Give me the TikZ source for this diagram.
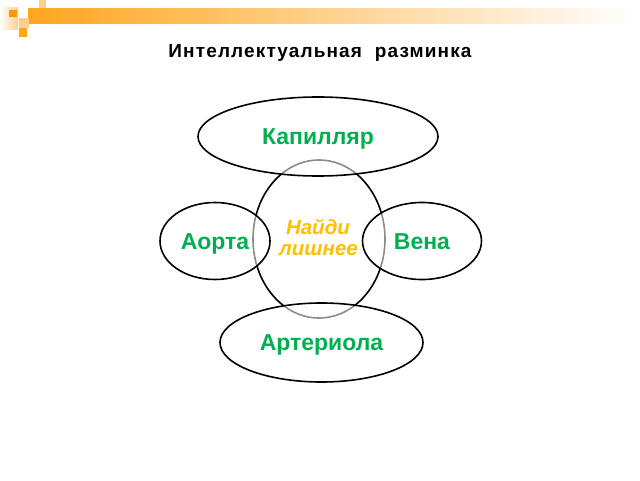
\documentclass[tikz,border=0pt]{standalone}
\usepackage{fontspec}
\setmainfont{Liberation Sans}
\usetikzlibrary{shapes.geometric}
\definecolor{wordgreen}{HTML}{00B050}
\definecolor{hintgold}{HTML}{FFC000}
\definecolor{decoorange}{RGB}{255,153,0}
\definecolor{decobar}{RGB}{255,165,30}
\definecolor{decopale}{RGB}{255,205,140}
\tikzset{
  oval/.style={ellipse, draw=black, line width=1.6pt, inner sep=0pt,
    fill=white, fill opacity=0.55, text opacity=1,
    font=\bfseries\fontsize{23}{23}\selectfont, text=wordgreen,
    text height=16.4pt, text depth=0pt},
  core/.style={ellipse, draw=black, line width=1.6pt, inner sep=0pt},
  hint/.style={font=\bfseries\itshape\fontsize{20.5}{20.5}\selectfont, text=hintgold, inner sep=0pt},
  heading/.style={font=\bfseries\fontsize{19}{19}\selectfont\addfontfeatures{LetterSpace=6}, text=black, inner sep=0pt},
}
\begin{document}
\begin{tikzpicture}[x=1pt,y=1pt]
\useasboundingbox (0,0) rectangle (640,480);
\fill[white] (0,0) rectangle (640,480);
% top-left decoration
\shade[left color=white, right color=decopale] (0,450) rectangle (18,472);
\shade[left color=decobar, right color=white] (28,456) rectangle (636,471);
\fill[decopale] (39,472) rectangle (46,480);
\fill[decoorange] (9,463) rectangle (17,470);
\fill[decopale] (19,452) rectangle (29,462);
\fill[decobar] (19,443) rectangle (27,452);
% title
\node[heading, anchor=base] (title) at (320,422.3) {Интеллектуальная\ \ разминка};
% central ellipse
\node[core, minimum width=132pt, minimum height=158pt] (core) at (319,241) {};
\node[hint, anchor=base] (hintA) at (318,245) {Найди};
\node[hint, anchor=base] (hintB) at (318.5,224.3) {лишнее};
% outer ellipses
\node[oval, minimum width=240pt, minimum height=79pt] (kap) at (318,343.5) {Капилляр};
\node[oval, minimum width=110pt, minimum height=77pt] (aorta) at (215,239) {Аорта};
\node[oval, minimum width=119pt, minimum height=77pt] (vena) at (422,239) {Вена};
\node[oval, minimum width=203pt, minimum height=79pt] (art) at (321.5,137.5) {Артериола};
\end{tikzpicture}
\end{document}
